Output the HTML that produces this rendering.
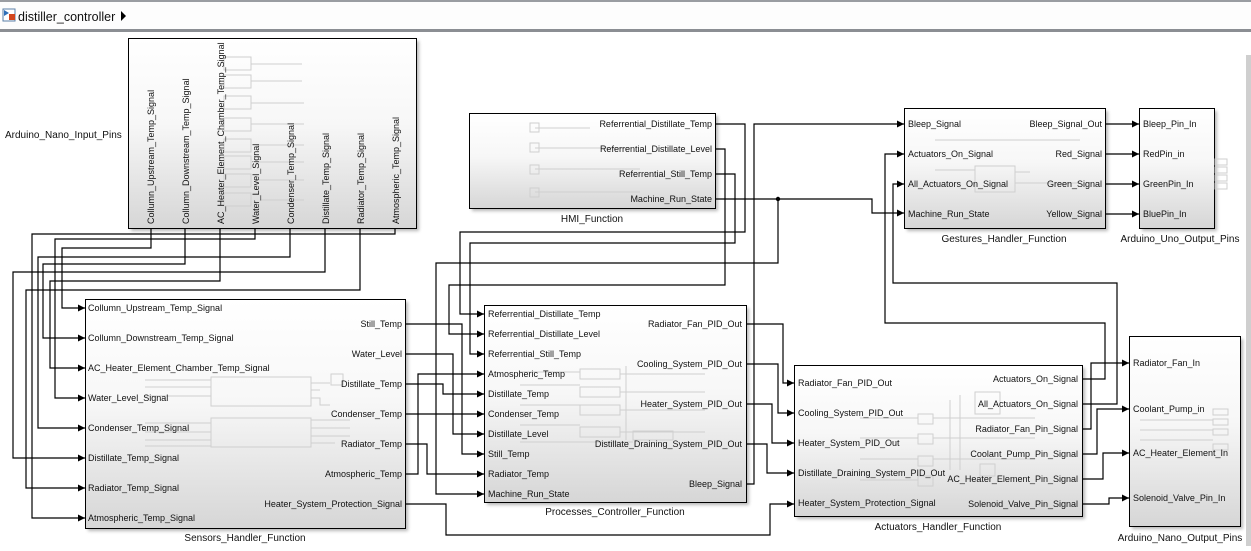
<!DOCTYPE html>
<html><head><meta charset="utf-8">
<style>
html,body{margin:0;padding:0;background:#fff;}
body{width:1251px;height:546px;overflow:hidden;position:relative;font-family:"Liberation Sans",Arial,sans-serif;}
svg text{font-family:"Liberation Sans",Arial,sans-serif;font-size:9px;fill:#111;}
svg text.t{font-size:10px;}
</style></head><body>
<svg width="1251" height="546" viewBox="0 0 1251 546" xmlns="http://www.w3.org/2000/svg">
<defs>
<linearGradient id="g" x1="0" y1="0" x2="0" y2="1">
<stop offset="0" stop-color="#ffffff"/><stop offset="0.45" stop-color="#f7f7f7"/><stop offset="1" stop-color="#d6d6d6"/>
</linearGradient>
<marker id="a" markerWidth="8" markerHeight="8" refX="7" refY="4" orient="auto" markerUnits="userSpaceOnUse">
<path d="M0,0.5 L7,4 L0,7.5 z" fill="#000"/>
</marker>
<filter id="sh" x="-5%" y="-5%" width="115%" height="115%"><feGaussianBlur stdDeviation="1.5"/></filter>
</defs>
<rect x="0" y="0" width="1251" height="2" fill="#9a9da2"/>
<rect x="0" y="2" width="1251" height="28" fill="#fdfdfd"/>
<rect x="0" y="29" width="1251" height="3" fill="#8b8e93"/>
<rect x="3" y="9" width="12" height="12" fill="#fff" stroke="#5a7fa8"/>
<rect x="9" y="14" width="6" height="6" fill="#d2461e"/>
<path d="M4,10 L9,13 L4,16z" fill="#2f6fb8"/>
<text x="18" y="21" style="font-size:12.5px">distiller_controller</text>
<path d="M121,11 L126,16 L121,21z" fill="#000"/>
<rect x="1246" y="55" width="5" height="491" fill="#cfcfcf"/>

<g fill="#888" opacity="0.6" filter="url(#sh)">
<rect x="131" y="41" width="288" height="190"/>
<rect x="88" y="302" width="320" height="229"/>
<rect x="487" y="308" width="262" height="197"/>
<rect x="472" y="116" width="246" height="95"/>
<rect x="907" y="111" width="201" height="120"/>
<rect x="1142" y="111" width="75" height="120"/>
<rect x="797" y="368" width="288" height="151"/>
<rect x="1132" y="339" width="111" height="190"/>
</g>
<g fill="url(#g)" stroke="#000" stroke-width="1">
<rect x="128.5" y="38.5" width="288" height="190"/>
<rect x="85.5" y="299.5" width="320" height="229"/>
<rect x="484.5" y="305.5" width="262" height="197"/>
<rect x="469.5" y="113.5" width="246" height="95"/>
<rect x="904.5" y="108.5" width="201" height="120"/>
<rect x="1139.5" y="108.5" width="75" height="120"/>
<rect x="794.5" y="365.5" width="288" height="151"/>
<rect x="1129.5" y="336.5" width="111" height="190"/>
</g>

<g fill="none" stroke="#cfcfcf" stroke-width="1">
<rect x="224" y="57" width="27" height="13"/><rect x="224" y="75" width="27" height="13"/><rect x="224" y="96" width="27" height="13"/><rect x="224" y="118" width="27" height="13"/><rect x="224" y="139" width="27" height="13"/><rect x="224" y="156" width="27" height="13"/><rect x="224" y="174" width="27" height="13"/><rect x="224" y="193" width="27" height="13"/>
<path d="M251,64H302M251,81H302M251,103H304M251,124H304M256,145H304M256,162H304M256,180H304M260,200H304"/>
<rect x="211" y="377" width="100" height="29"/><rect x="211" y="418" width="100" height="29"/>
<path d="M145,380H211M145,387H211M145,396H211M145,423H211M145,432H211M145,440H211M145,446H211M311,383H330M311,390H320M311,398H320V405H330M311,420H350M311,428H350M311,436H350M311,443H335"/>
<rect x="331" y="374" width="12" height="11"/>
<rect x="580" y="369" width="40" height="10"/><rect x="580" y="387" width="40" height="10"/><rect x="580" y="405" width="40" height="10"/><rect x="580" y="427" width="40" height="10"/><rect x="633" y="431" width="40" height="9"/>
<path d="M520,372H580M520,385H580M520,405H580M520,425H580M520,442H633M620,374H705M620,392H705M620,410H705M620,432H705M626,366V440"/>
<path d="M535,128H590M535,148H630M535,169H640M535,192H640"/>
<rect x="530" y="123" width="9" height="9"/><rect x="530" y="143" width="9" height="9"/><rect x="530" y="165" width="9" height="9"/><rect x="530" y="188" width="9" height="9"/>
<rect x="975" y="166" width="40" height="26"/>
<path d="M935,140H1080M935,170H975M1015,172H1030M1015,183H1080"/>
<rect x="918" y="414" width="15" height="10"/><rect x="918" y="434" width="15" height="10"/><rect x="918" y="456" width="15" height="10"/><rect x="918" y="476" width="15" height="10"/><rect x="975" y="392" width="25" height="22"/><rect x="980" y="464" width="15" height="12"/>
<path d="M860,418H918M860,438H918M860,459H918M860,480H918M933,418H1035M933,438H1035M933,459H1035M960,395V470M950,400V470"/>
<rect x="1215" y="159" width="12" height="6"/><rect x="1215" y="167" width="12" height="6"/><rect x="1215" y="175" width="12" height="6"/><rect x="1215" y="183" width="12" height="6"/>
<rect x="1213" y="409" width="15" height="6"/><rect x="1213" y="419" width="15" height="6"/><rect x="1213" y="429" width="15" height="6"/><rect x="1213" y="444" width="15" height="6"/>
<path d="M1140,420H1213M1140,430H1213M1140,440H1213"/>
</g>

<g fill="none" stroke="#000" stroke-width="1.2">
<path d="M395,229V234H32V518H85" marker-end="url(#a)"/>
<path d="M255,229V239H55V398H85" marker-end="url(#a)"/>
<path d="M151,229V248H62V308H85" marker-end="url(#a)"/>
<path d="M290,229V257H38V428H85" marker-end="url(#a)"/>
<path d="M185,229V264H43V338H85" marker-end="url(#a)"/>
<path d="M325,229V272H13V458H85" marker-end="url(#a)"/>
<path d="M220,229V281H50V368H85" marker-end="url(#a)"/>
<path d="M360,229V290H26V488H85" marker-end="url(#a)"/>
<path d="M405,324H462V454H484" marker-end="url(#a)"/>
<path d="M405,354H453V434H484" marker-end="url(#a)"/>
<path d="M405,384H443V394H484" marker-end="url(#a)"/>
<path d="M405,414H484" marker-end="url(#a)"/>
<path d="M405,444H427V474H484" marker-end="url(#a)"/>
<path d="M405,474H418V374H484" marker-end="url(#a)"/>
<path d="M405,504H446V535H770V504H794" marker-end="url(#a)"/>
<path d="M715,124H745V232H460V314H484" marker-end="url(#a)"/>
<path d="M715,149H725V285H449V334H484" marker-end="url(#a)"/>
<path d="M715,174H735V243H470V354H484" marker-end="url(#a)"/>
<path d="M715,199H872V213H904" marker-end="url(#a)"/>
<path d="M778,199V263H436V494H484" marker-end="url(#a)"/>
<path d="M746,324H783V383H794" marker-end="url(#a)"/>
<path d="M746,364H778V413H794" marker-end="url(#a)"/>
<path d="M746,404H772V443H794" marker-end="url(#a)"/>
<path d="M746,444H767V473H794" marker-end="url(#a)"/>
<path d="M746,484H754V124H904" marker-end="url(#a)"/>
<path d="M1082,379H1105V323H885V154H904" marker-end="url(#a)"/>
<path d="M1082,404H1117V283H893V184H904" marker-end="url(#a)"/>
<path d="M1105,124H1139" marker-end="url(#a)"/>
<path d="M1105,154H1139" marker-end="url(#a)"/>
<path d="M1105,184H1139" marker-end="url(#a)"/>
<path d="M1105,214H1139" marker-end="url(#a)"/>
<path d="M1082,429H1091V363H1129" marker-end="url(#a)"/>
<path d="M1082,454H1097V409H1129" marker-end="url(#a)"/>
<path d="M1082,479H1103V453H1129" marker-end="url(#a)"/>
<path d="M1082,504H1109V498H1129" marker-end="url(#a)"/>
</g>
<circle cx="778" cy="199" r="2.2" fill="#000"/>

<text class="t" x="5" y="138">Arduino_Nano_Input_Pins</text>
<g>
<text transform="translate(154,224) rotate(-90)">Collumn_Upstream_Temp_Signal</text>
<text transform="translate(189,224) rotate(-90)">Collumn_Downstream_Temp_Signal</text>
<text transform="translate(224,224) rotate(-90)">AC_Heater_Element_Chamber_Temp_Signal</text>
<text transform="translate(259,224) rotate(-90)">Water_Level_Signal</text>
<text transform="translate(294,224) rotate(-90)">Condenser_Temp_Signal</text>
<text transform="translate(329,224) rotate(-90)">Distillate_Temp_Signal</text>
<text transform="translate(364,224) rotate(-90)">Radiator_Temp_Signal</text>
<text transform="translate(399,224) rotate(-90)">Atmospheric_Temp_Signal</text>
</g>

<text x="88" y="311">Collumn_Upstream_Temp_Signal</text>
<text x="88" y="341">Collumn_Downstream_Temp_Signal</text>
<text x="88" y="371">AC_Heater_Element_Chamber_Temp_Signal</text>
<text x="88" y="401">Water_Level_Signal</text>
<text x="88" y="431">Condenser_Temp_Signal</text>
<text x="88" y="461">Distillate_Temp_Signal</text>
<text x="88" y="491">Radiator_Temp_Signal</text>
<text x="88" y="521">Atmospheric_Temp_Signal</text>
<g text-anchor="end">
<text x="402" y="327">Still_Temp</text>
<text x="402" y="357">Water_Level</text>
<text x="402" y="387">Distillate_Temp</text>
<text x="402" y="417">Condenser_Temp</text>
<text x="402" y="447">Radiator_Temp</text>
<text x="402" y="477">Atmospheric_Temp</text>
<text x="402" y="507">Heater_System_Protection_Signal</text>
</g>
<text class="t" x="245" y="541" text-anchor="middle">Sensors_Handler_Function</text>

<text x="488" y="317">Referrential_Distillate_Temp</text>
<text x="488" y="337">Referrential_Distillate_Level</text>
<text x="488" y="357">Referrential_Still_Temp</text>
<text x="488" y="377">Atmospheric_Temp</text>
<text x="488" y="397">Distillate_Temp</text>
<text x="488" y="417">Condenser_Temp</text>
<text x="488" y="437">Distillate_Level</text>
<text x="488" y="457">Still_Temp</text>
<text x="488" y="477">Radiator_Temp</text>
<text x="488" y="497">Machine_Run_State</text>
<g text-anchor="end">
<text x="742" y="327">Radiator_Fan_PID_Out</text>
<text x="742" y="367">Cooling_System_PID_Out</text>
<text x="742" y="407">Heater_System_PID_Out</text>
<text x="742" y="447">Distillate_Draining_System_PID_Out</text>
<text x="742" y="487">Bleep_Signal</text>
</g>
<text class="t" x="615" y="515" text-anchor="middle">Processes_Controller_Function</text>

<g text-anchor="end">
<text x="712" y="127">Referrential_Distillate_Temp</text>
<text x="712" y="152">Referrential_Distillate_Level</text>
<text x="712" y="177">Referrential_Still_Temp</text>
<text x="712" y="202">Machine_Run_State</text>
</g>
<text class="t" x="592" y="222" text-anchor="middle">HMI_Function</text>

<text x="908" y="127">Bleep_Signal</text>
<text x="908" y="157">Actuators_On_Signal</text>
<text x="908" y="187">All_Actuators_On_Signal</text>
<text x="908" y="217">Machine_Run_State</text>
<g text-anchor="end">
<text x="1102" y="127">Bleep_Signal_Out</text>
<text x="1102" y="157">Red_Signal</text>
<text x="1102" y="187">Green_Signal</text>
<text x="1102" y="217">Yellow_Signal</text>
</g>
<text class="t" x="1004" y="242" text-anchor="middle">Gestures_Handler_Function</text>

<text x="1143" y="127">Bleep_Pin_In</text>
<text x="1143" y="157">RedPin_in</text>
<text x="1143" y="187">GreenPin_In</text>
<text x="1143" y="217">BluePin_In</text>
<text class="t" x="1180" y="242" text-anchor="middle">Arduino_Uno_Output_Pins</text>

<text x="798" y="386">Radiator_Fan_PID_Out</text>
<text x="798" y="416">Cooling_System_PID_Out</text>
<text x="798" y="446">Heater_System_PID_Out</text>
<text x="798" y="476">Distillate_Draining_System_PID_Out</text>
<text x="798" y="506">Heater_System_Protection_Signal</text>
<g text-anchor="end">
<text x="1078" y="382">Actuators_On_Signal</text>
<text x="1078" y="407">All_Actuators_On_Signal</text>
<text x="1078" y="432">Radiator_Fan_Pin_Signal</text>
<text x="1078" y="457">Coolant_Pump_Pin_Signal</text>
<text x="1078" y="482">AC_Heater_Element_Pin_Signal</text>
<text x="1078" y="507">Solenoid_Valve_Pin_Signal</text>
</g>
<text class="t" x="938" y="530" text-anchor="middle">Actuators_Handler_Function</text>

<text x="1133" y="366">Radiator_Fan_In</text>
<text x="1133" y="412">Coolant_Pump_in</text>
<text x="1133" y="456">AC_Heater_Element_In</text>
<text x="1133" y="501">Solenoid_Valve_Pin_In</text>
<text class="t" x="1180" y="541" text-anchor="middle">Arduino_Nano_Output_Pins</text>
</svg>
</body></html>
